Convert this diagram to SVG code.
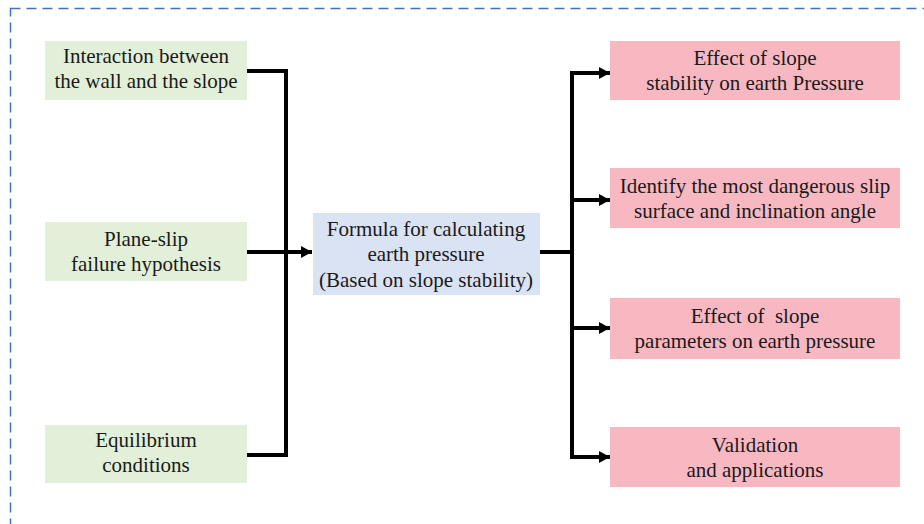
<svg xmlns="http://www.w3.org/2000/svg" width="924" height="524" viewBox="0 0 924 524">
<defs>
<marker id="ah" markerUnits="userSpaceOnUse" markerWidth="12" markerHeight="14" refX="11" refY="7" orient="auto">
<path d="M0,1 L11,7 L0,13 Z" fill="#000"/>
</marker>
<style>
.g{fill:#E2F0D9}
.b{fill:#DAE3F3}
.p{fill:#F7B8C2}
.c{fill:none;stroke:#000;stroke-width:4}
</style>
</defs>
<rect x="10.5" y="8.5" width="930" height="530" fill="none" stroke="#4472C4" stroke-width="1.5" stroke-dasharray="10 6"/>
<g id="n1"><rect class="g" x="45" y="41" width="202" height="59"/><text x="146" y="63" font-family="Liberation Serif" font-size="21" fill="#1a1a1a" text-anchor="middle">Interaction between</text><text x="146" y="88" font-family="Liberation Serif" font-size="21" fill="#1a1a1a" text-anchor="middle">the wall and the slope</text></g>
<g id="n2"><rect class="g" x="45" y="222" width="202" height="59"/><text x="146" y="246" font-family="Liberation Serif" font-size="21" fill="#1a1a1a" text-anchor="middle">Plane-slip</text><text x="146" y="271" font-family="Liberation Serif" font-size="21" fill="#1a1a1a" text-anchor="middle">failure hypothesis</text></g>
<g id="n3"><rect class="g" x="45" y="425" width="202" height="58"/><text x="146" y="447" font-family="Liberation Serif" font-size="21" fill="#1a1a1a" text-anchor="middle">Equilibrium</text><text x="146" y="472" font-family="Liberation Serif" font-size="21" fill="#1a1a1a" text-anchor="middle">conditions</text></g>
<g id="c"><rect class="b" x="313" y="213" width="227" height="82"/><text x="426" y="236" font-family="Liberation Serif" font-size="21" fill="#1a1a1a" text-anchor="middle">Formula for calculating</text><text x="426" y="261" font-family="Liberation Serif" font-size="21" fill="#1a1a1a" text-anchor="middle">earth pressure</text><text x="426" y="287" font-family="Liberation Serif" font-size="21" fill="#1a1a1a" text-anchor="middle">(Based on slope stability)</text></g>
<g id="r1"><rect class="p" x="610" y="41" width="290" height="59"/><text x="755" y="65" font-family="Liberation Serif" font-size="21" fill="#1a1a1a" text-anchor="middle">Effect of slope</text><text x="755" y="90" font-family="Liberation Serif" font-size="21" fill="#1a1a1a" text-anchor="middle">stability on earth Pressure</text></g>
<g id="r2"><rect class="p" x="610" y="168" width="290" height="60"/><text x="755" y="193" font-family="Liberation Serif" font-size="21" fill="#1a1a1a" text-anchor="middle">Identify the most dangerous slip</text><text x="755" y="218" font-family="Liberation Serif" font-size="21" fill="#1a1a1a" text-anchor="middle">surface and inclination angle</text></g>
<g id="r3"><rect class="p" x="610" y="298" width="290" height="61"/><text x="755" y="323" font-family="Liberation Serif" font-size="21" fill="#1a1a1a" text-anchor="middle" xml:space="preserve">Effect of  slope</text><text x="755" y="348" font-family="Liberation Serif" font-size="21" fill="#1a1a1a" text-anchor="middle">parameters on earth pressure</text></g>
<g id="r4"><rect class="p" x="610" y="427" width="290" height="60"/><text x="755" y="452" font-family="Liberation Serif" font-size="21" fill="#1a1a1a" text-anchor="middle">Validation</text><text x="755" y="477" font-family="Liberation Serif" font-size="21" fill="#1a1a1a" text-anchor="middle">and applications</text></g>
<g id="connectors">
<path class="c" d="M247,71 H286 V455 H247"/>
<path class="c" d="M247,252 H312" marker-end="url(#ah)"/>
<path class="c" d="M540,252 H572"/>
<path class="c" d="M572,71 V457"/>
<path class="c" d="M570,73 H610" marker-end="url(#ah)"/>
<path class="c" d="M570,200 H610" marker-end="url(#ah)"/>
<path class="c" d="M570,328 H610" marker-end="url(#ah)"/>
<path class="c" d="M570,457 H610" marker-end="url(#ah)"/>
</g>
</svg>
